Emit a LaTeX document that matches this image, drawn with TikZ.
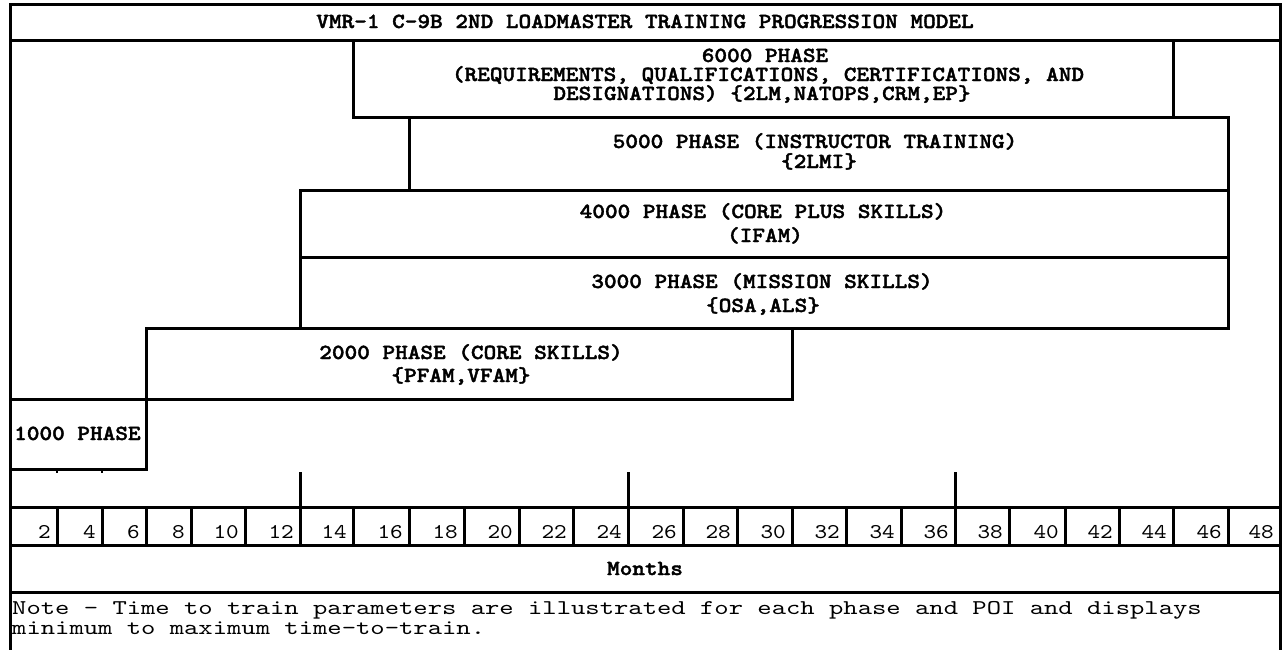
\documentclass[tikz,border=0pt]{standalone}
\usepackage{fontspec}
\newfontfamily\monoreg[FakeStretch=1.143]{lmmono10-regular.otf}
\newfontfamily\monobold[FakeStretch=1.12,FakeBold=1.8]{lmmonolt10-bold.otf}
\newfontfamily\mononote[FakeStretch=1.30]{lmmono10-regular.otf}
\begin{document}
\begin{tikzpicture}[x=1pt,y=-1pt,line join=miter,
  rule/.style={line width=3pt},
  bt/.style={font=\monobold\fontsize{21.5}{24}\selectfont, anchor=base, inner sep=0pt},
  num/.style={font=\monoreg\fontsize{21}{24}\selectfont, anchor=base east, inner sep=0pt},
  notetext/.style={font=\mononote\fontsize{21}{20}\selectfont, anchor=base west, inner sep=0pt}]
\useasboundingbox (0,0) rectangle (1283,649);
% outer frame
\draw[rule] (10,655) -- (10,4) -- (1280,4) -- (1280,655);
\draw[rule] (10,40) -- (1280,40);
\node[bt] (title) at (645,28) {VMR-1 C-9B 2ND LOADMASTER TRAINING PROGRESSION MODEL};
% phase boxes
\draw[rule] (353,40) rectangle (1173,117);
\node[bt] (p6a) at (765,62) {6000 PHASE};
\node[bt] (p6b) at (768,81) {(REQUIREMENTS, QUALIFICATIONS, CERTIFICATIONS, AND};
\node[bt] (p6c) at (762,100) {DESIGNATIONS) \{2LM,NATOPS,CRM,EP\}};
\draw[rule] (409,117) rectangle (1228,190);
\node[bt] (p5a) at (815,148) {5000 PHASE (INSTRUCTOR TRAINING)};
\node[bt] (p5b) at (819,168) {\{2LMI\}};
\draw[rule] (300,190) rectangle (1228,257);
\node[bt] (p4a) at (763,218) {4000 PHASE (CORE PLUS SKILLS)};
\node[bt] (p4b) at (765,242) {(IFAM)};
\draw[rule] (300,257) rectangle (1228,328);
\node[bt] (p3a) at (762,288) {3000 PHASE (MISSION SKILLS)};
\node[bt] (p3b) at (763,312) {\{OSA,ALS\}};
\draw[rule] (146,328) rectangle (792,399);
\node[bt] (p2a) at (471,359) {2000 PHASE (CORE SKILLS)};
\node[bt] (p2b) at (461,382) {\{PFAM,VFAM\}};
\draw[rule] (10,399) rectangle (146,469);
\node[bt,anchor=base west] (p1) at (14,440) {1000 PHASE};
\draw[line width=2pt] (57,469) -- (57,473);
\draw[line width=2pt] (102,469) -- (102,473);
% year ticks
\foreach \t in {300,628,955} { \draw[rule] (\t,472) -- (\t,507); }
% timeline
\draw[rule] (10,507) -- (1280,507);
\draw[rule] (10,545) -- (1280,545);
\foreach \x [count=\i] in {57,102,146,191,245,300,353,409,464,519,573,628,683,737,792,846,901,955,1009,1065,1119,1173,1228,1280} {
  \draw[rule] (\x,507) -- (\x,545);
  \node[num] (m\i) at (\x-6,538) {\the\numexpr 2*\i\relax};
}
\node[bt] (months) at (645,575) {Months};
\draw[rule] (10,592) -- (1280,592);
\node[notetext] (note1) at (12,614) {Note - Time to train parameters are illustrated for each phase and POI and displays};
\node[notetext] (note2) at (12,634) {minimum to maximum time-to-train.};
\end{tikzpicture}
\end{document}
